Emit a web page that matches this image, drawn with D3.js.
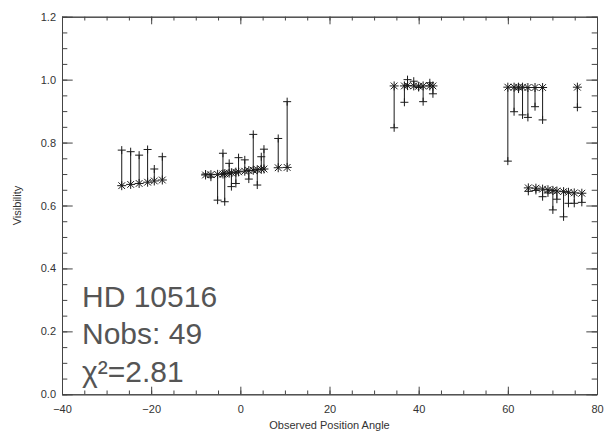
<!DOCTYPE html>
<html>
<head>
<meta charset="utf-8">
<script src="https://cdn.jsdelivr.net/npm/d3@7"></script>
<style>
  body { margin: 0; background: #fff; }
  svg { display: block; }
</style>
</head>
<body>
<svg id="chart" width="615" height="440"></svg>
<script>
// position angle (deg), model visibility (asterisk), observed visibility (plus)
const pa = [
  -26.6, -24.6, -22.7, -20.8, -19.3, -17.5,
  -7.8, -6.6, -5.1, -3.9, -3.5, -2.5, -2.0, -1.0, -0.4, 1.0, 1.9, 2.9, 3.8, 4.7, 5.3, 8.5, 10.5,
  34.5, 36.8, 37.5, 38.9, 40.0, 41.0, 42.5, 43.2,
  60.0, 61.4, 62.4, 63.3, 64.5, 66.1, 67.8,
  75.6,
  64.6, 66.3, 67.8, 69.0, 70.1, 71.0, 72.5, 73.6, 74.9, 76.6
]
const vModel = [
  0.663, 0.667, 0.670, 0.674, 0.678, 0.681,
  0.697, 0.698, 0.699, 0.700, 0.701, 0.703, 0.704, 0.706, 0.707, 0.709, 0.711, 0.712, 0.714, 0.715, 0.716, 0.720, 0.721,
  0.980, 0.980, 0.981, 0.980, 0.979, 0.980, 0.980, 0.980,
  0.976, 0.976, 0.976, 0.976, 0.975, 0.975, 0.975,
  0.976,
  0.656, 0.655, 0.652, 0.650, 0.648, 0.646, 0.644, 0.642, 0.640, 0.639
]
const vObs = [
  0.776, 0.771, 0.760, 0.778, 0.716, 0.755,
  0.700, 0.690, 0.617, 0.766, 0.612, 0.734, 0.660, 0.670, 0.752, 0.745, 0.684, 0.826, 0.665, 0.755, 0.779, 0.813, 0.930,
  0.847, 0.928, 1.000, 0.995, 0.975, 0.930, 0.990, 0.955,
  0.741, 0.898, 0.970, 0.888, 0.880, 0.914, 0.872,
  0.912,
  0.645, 0.648, 0.628, 0.640, 0.586, 0.620, 0.564, 0.607, 0.607, 0.610
]
const xTicks = [-40, -20, 0, 20, 40, 60, 80]
const yTicks = [0.0, 0.2, 0.4, 0.6, 0.8, 1.0, 1.2]
const labelLines = ["HD 10516", "Nobs: 49", "χ²=2.81"]

const svg = d3.select("#chart")
const mLeft = 62, mRight = 597, mTop = 16.7, mBottom = 394.3

const x = d3.scaleLinear().domain([-40, 80]).range([mLeft, mRight])
const y = d3.scaleLinear().domain([0, 1.2]).range([mBottom, mTop])

const axisColor = "#444"
const font = "'Liberation Sans', Arial, sans-serif"

// minor ticks first, then major with labels
const xMinor = d3.range(-40, 80.1, 5)
const yMinor = d3.range(0, 1.2001, 0.05)

function styleAxis(g) {
  g.selectAll("path, line").attr("stroke", axisColor)
  g.selectAll("text").attr("fill", "#333").attr("font-family", font).attr("font-size", 11)
}

svg.append("g").attr("transform", `translate(0,${mBottom})`)
  .call(d3.axisBottom(x).tickValues(xMinor).tickSize(-3.8).tickFormat("").tickSizeOuter(0)).call(styleAxis)
svg.append("g").attr("transform", `translate(0,${mTop})`)
  .call(d3.axisTop(x).tickValues(xMinor).tickSize(-3.8).tickFormat("").tickSizeOuter(0)).call(styleAxis)
svg.append("g").attr("transform", `translate(${mLeft},0)`)
  .call(d3.axisLeft(y).tickValues(yMinor).tickSize(-5.3).tickFormat("").tickSizeOuter(0)).call(styleAxis)
svg.append("g").attr("transform", `translate(${mRight},0)`)
  .call(d3.axisRight(y).tickValues(yMinor).tickSize(-5.3).tickFormat("").tickSizeOuter(0)).call(styleAxis)

svg.append("g").attr("transform", `translate(0,${mBottom})`)
  .call(d3.axisBottom(x).tickValues(xTicks).tickSize(-7.6).tickPadding(11).tickSizeOuter(0)).call(styleAxis)
svg.append("g").attr("transform", `translate(0,${mTop})`)
  .call(d3.axisTop(x).tickValues(xTicks).tickSize(-7.6).tickFormat("").tickSizeOuter(0)).call(styleAxis)
svg.append("g").attr("transform", `translate(${mLeft},0)`)
  .call(d3.axisLeft(y).tickValues(yTicks).tickSize(-10.7).tickPadding(6).tickFormat(d3.format(".1f")).tickSizeOuter(0)).call(styleAxis)
svg.append("g").attr("transform", `translate(${mRight},0)`)
  .call(d3.axisRight(y).tickValues(yTicks).tickSize(-10.7).tickFormat("").tickSizeOuter(0)).call(styleAxis)

// axis titles
svg.append("text")
  .attr("x", (mLeft + mRight) / 2).attr("y", 429)
  .attr("text-anchor", "middle")
  .attr("font-family", font).attr("font-size", 11).attr("fill", "#333")
  .text("Observed Position Angle")
svg.append("text")
  .attr("transform", `translate(21,${(mTop + mBottom) / 2}) rotate(-90)`)
  .attr("text-anchor", "middle")
  .attr("font-family", font).attr("font-size", 11).attr("fill", "#333")
  .text("Visibility")

// data: line from model to obs, asterisk for model, plus for obs
const pts = pa.map((a, i) => ({ a, m: vModel[i], o: vObs[i] }))
const marks = svg.append("g").attr("class", "marks")
  .attr("stroke", "#1a1a1a").attr("stroke-width", 1).attr("fill", "none")

marks.selectAll("line.link")
  .data(pts)
  .enter()
  .append("line")
  .attr("class", "link")
  .attr("x1", d => x(d.a)).attr("x2", d => x(d.a))
  .attr("y1", d => y(d.m)).attr("y2", d => y(d.o))

const rs = 4.5, rp = 4
marks.selectAll("path.star")
  .data(pts)
  .enter()
  .append("path")
  .attr("class", "star")
  .attr("d", d => {
    const cx = x(d.a), cy = y(d.m), k = rs * 0.75
    return `M${cx - rs},${cy}H${cx + rs}M${cx},${cy - rs}V${cy + rs}` +
      `M${cx - k},${cy - k}L${cx + k},${cy + k}M${cx - k},${cy + k}L${cx + k},${cy - k}`
  })

marks.selectAll("path.plus")
  .data(pts)
  .enter()
  .append("path")
  .attr("class", "plus")
  .attr("d", d => {
    const cx = x(d.a), cy = y(d.o)
    return `M${cx - rp},${cy}H${cx + rp}M${cx},${cy - rp}V${cy + rp}`
  })

// star label
svg.append("g").selectAll("text")
  .data(labelLines)
  .enter()
  .append("text")
  .attr("x", 82)
  .attr("y", (d, i) => 306.5 + i * 37.5)
  .attr("font-family", font).attr("font-size", 30).attr("fill", "#555")
  .text(d => d)
</script>
</body>
</html>
